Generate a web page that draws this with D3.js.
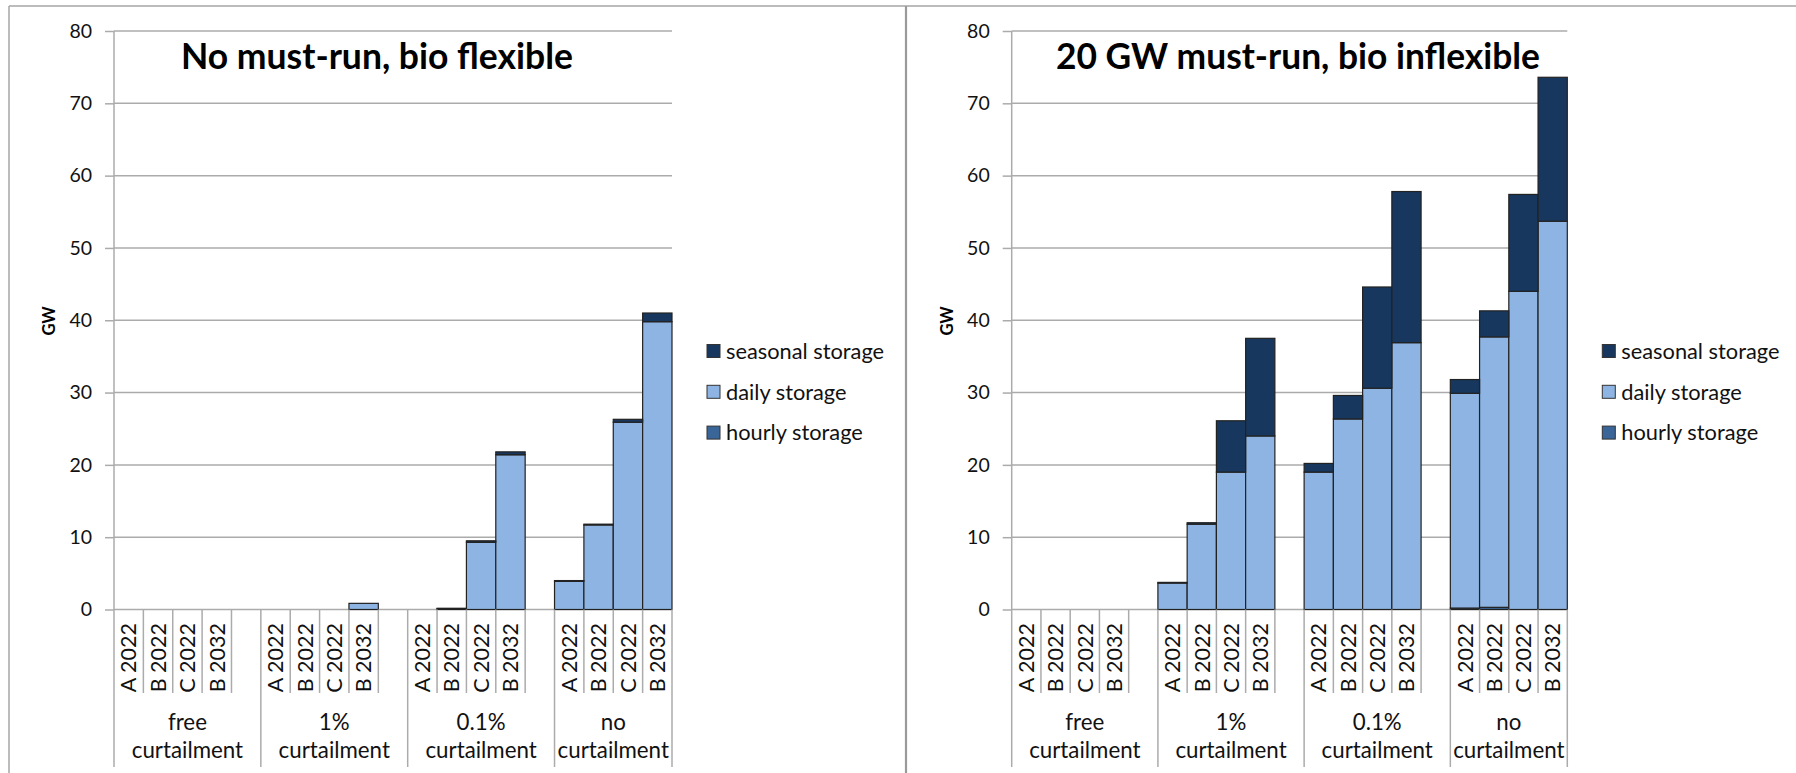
<!DOCTYPE html>
<html><head><meta charset="utf-8">
<script src="https://cdn.jsdelivr.net/npm/d3@7"></script>
<style>body{margin:0;background:#fff;overflow:hidden} text{font-family:Lato,"Open Sans",sans-serif}</style>
</head><body><svg id="c" width="1796" height="773"></svg>
<script>
// ---- data ----
const groupLines = [["free","curtailment"],["1%","curtailment"],["0.1%","curtailment"],["no","curtailment"]];
const scenarios = ["A 2022","B 2022","C 2022","B 2032"];
const seriesNames = ["hourly storage","daily storage","seasonal storage"];
const legendOrder = ["seasonal storage","daily storage","hourly storage"];
const yTicks = [0,10,20,30,40,50,60,70,80];
const titles = ["No must-run, bio flexible","20 GW must-run, bio inflexible"];
const axisTitle = "GW";
// values: [group][scenario]  (scenarios A 2022, B 2022, C 2022, B 2032)
const leftHourly   = [[0,0,0,0],[0,0,0,0],[0,0,0,0],[0,0,0,0]];
const leftDaily    = [[0,0,0,0],[0,0,0,0.85],[0,0.12,9.3,21.4],[3.9,11.7,25.9,39.8]];
const leftSeasonal = [[0,0,0,0],[0,0,0,0],[0,0.05,0.2,0.4],[0.1,0.1,0.4,1.2]];
const rightHourly   = [[0,0,0,0],[0,0,0,0],[0,0,0,0],[0.2,0.3,0,0]];
const rightDaily    = [[0,0,0,0],[3.7,11.8,19.0,24.0],[19.0,26.35,30.6,36.9],[29.7,37.4,44.0,53.7]];
const rightSeasonal = [[0,0,0,0],[0.05,0.2,7.1,13.5],[1.2,3.25,14.0,20.9],[1.9,3.6,13.4,19.9]];

const colors = {"hourly storage":"#3A6599","daily storage":"#8DB4E2","seasonal storage":"#17375E"};
const GRID = "#ababab";
const svg = d3.select("#c");
const Y0 = 609.5, YTOP = 31, CAT_BOTTOM = 693, SEP_BOTTOM = 767;

// frame
svg.append("line").attr("x1",9).attr("x2",9).attr("y1",6).attr("y2",773).attr("stroke","#a6a6a6").attr("stroke-width",1.5);
svg.append("line").attr("x1",9).attr("x2",1796).attr("y1",6).attr("y2",6).attr("stroke","#a6a6a6").attr("stroke-width",1.5);
svg.append("line").attr("x1",906).attr("x2",906).attr("y1",6).attr("y2",773).attr("stroke","#9a9a9a").attr("stroke-width",2.2);

function panel(x0, x1, hourly, daily, seasonal, title, titleX, titleW) {
  const slots = [];
  groupLines.forEach((g,gi)=>{
    scenarios.forEach((s,si)=>slots.push({id:gi+"|"+si, gi, si, label:s}));
    if (gi < groupLines.length-1) slots.push({id:gi+"|b", gi, si:-1, label:""});
  });
  const x = d3.scaleBand().domain(slots.map(d=>d.id)).range([x0,x1]).padding(0);
  const bw = x.bandwidth();
  const y = d3.scaleLinear().domain([0,80]).range([Y0,YTOP]);
  const g = svg.append("g");

  // gridlines
  g.append("g").selectAll("line").data(yTicks.filter(t=>t>0)).join("line")
    .attr("x1",x0).attr("x2",x1).attr("y1",d=>y(d)).attr("y2",d=>y(d))
    .attr("stroke",GRID).attr("stroke-width",1.5);

  // y axis
  const ax = g.append("g").attr("transform",`translate(${x0},0)`)
    .call(d3.axisLeft(y).tickValues(yTicks).tickSize(9).tickPadding(13));
  ax.select(".domain").remove();
  ax.selectAll(".tick line").attr("stroke",GRID).attr("stroke-width",1.5);
  ax.selectAll(".tick text").attr("font-size",19.5).attr("fill","#111").style("font-family","Lato");
  g.append("line").attr("x1",x0).attr("x2",x0).attr("y1",YTOP).attr("y2",SEP_BOTTOM).attr("stroke",GRID).attr("stroke-width",1.5);

  // category axis line
  g.append("line").attr("x1",x0).attr("x2",x1).attr("y1",Y0).attr("y2",Y0).attr("stroke",GRID).attr("stroke-width",1.5);

  // bars
  const rows = slots.filter(s=>s.si>=0).map(s=>({id:s.id,
    "hourly storage":hourly[s.gi][s.si], "daily storage":daily[s.gi][s.si], "seasonal storage":seasonal[s.gi][s.si]}));
  const stacked = d3.stack().keys(seriesNames)(rows);
  stacked.forEach(layer=>{
    g.append("g").selectAll("rect").data(layer.filter(d=>d[1]-d[0]>0)).join("rect")
      .attr("x",d=>x(d.data.id)).attr("width",bw)
      .attr("y",d=>y(d[1])).attr("height",d=>Math.max(0.8,y(d[0])-y(d[1])))
      .attr("fill",colors[layer.key]).attr("stroke","#222").attr("stroke-width",1.2);
  });

  // category tick lines
  const catSlots = slots.filter(s=>s.si>=0);
  g.append("g").selectAll("line").data(catSlots).join("line")
    .attr("x1",d=>x(d.id)+bw).attr("x2",d=>x(d.id)+bw)
    .attr("y1",Y0).attr("y2",d=>(d.gi===groupLines.length-1 && d.si===scenarios.length-1)?SEP_BOTTOM:CAT_BOTTOM)
    .attr("stroke",GRID).attr("stroke-width",1.5);
  // group separators
  g.append("g").selectAll("line").data(groupLines.slice(1).map((d,i)=>i+1)).join("line")
    .attr("x1",gi=>x(gi+"|0")).attr("x2",gi=>x(gi+"|0"))
    .attr("y1",Y0).attr("y2",SEP_BOTTOM).attr("stroke",GRID).attr("stroke-width",1.5);

  // category labels
  g.append("g").selectAll("text").data(catSlots).join("text")
    .attr("transform",d=>`translate(${x(d.id)+bw/2},623) rotate(-90)`)
    .attr("text-anchor","end").attr("dy","0.36em").attr("font-size",21.5).attr("fill","#111")
    .text(d=>d.label);

  // group labels
  groupLines.forEach((lines,gi)=>{
    const a = x(gi+"|0");
    const b = gi<groupLines.length-1 ? x(gi+"|b")+bw : x1;
    const t = g.append("text").attr("text-anchor","middle").attr("font-size",22.3).attr("fill","#111");
    t.append("tspan").attr("x",(a+b)/2).attr("y",730).text(lines[0]);
    t.append("tspan").attr("x",(a+b)/2).attr("y",758).text(lines[1]);
  });

  // legend
  const lg = g.append("g").selectAll("g").data(legendOrder).join("g")
    .attr("transform",(d,i)=>`translate(${x1+35},${351+i*40.8})`);
  lg.append("rect").attr("x",0).attr("y",-6.5).attr("width",13).attr("height",13)
    .attr("fill",d=>colors[d]).attr("stroke","#333").attr("stroke-width",1);
  lg.append("text").attr("x",19).attr("dy","0.36em").attr("font-size",21.8).attr("fill","#111").text(d=>d);

  // axis title
  g.append("text").attr("transform",`translate(${x0-59},321) rotate(-90)`)
    .attr("text-anchor","middle").attr("font-size",16.5).attr("font-weight","bold").text(axisTitle);

  // chart title
  const tt = g.append("text").attr("x",titleX).attr("y",69).attr("font-size",34).attr("font-weight","bold").attr("fill","#000").text(title);
  const w = tt.node().getComputedTextLength();
  tt.attr("font-size",34*titleW/w);
}

panel(114, 672, leftHourly, leftDaily, leftSeasonal, titles[0], 181, 392);
panel(1011.7, 1567.3, rightHourly, rightDaily, rightSeasonal, titles[1], 1056, 484);
</script>
</body></html>
